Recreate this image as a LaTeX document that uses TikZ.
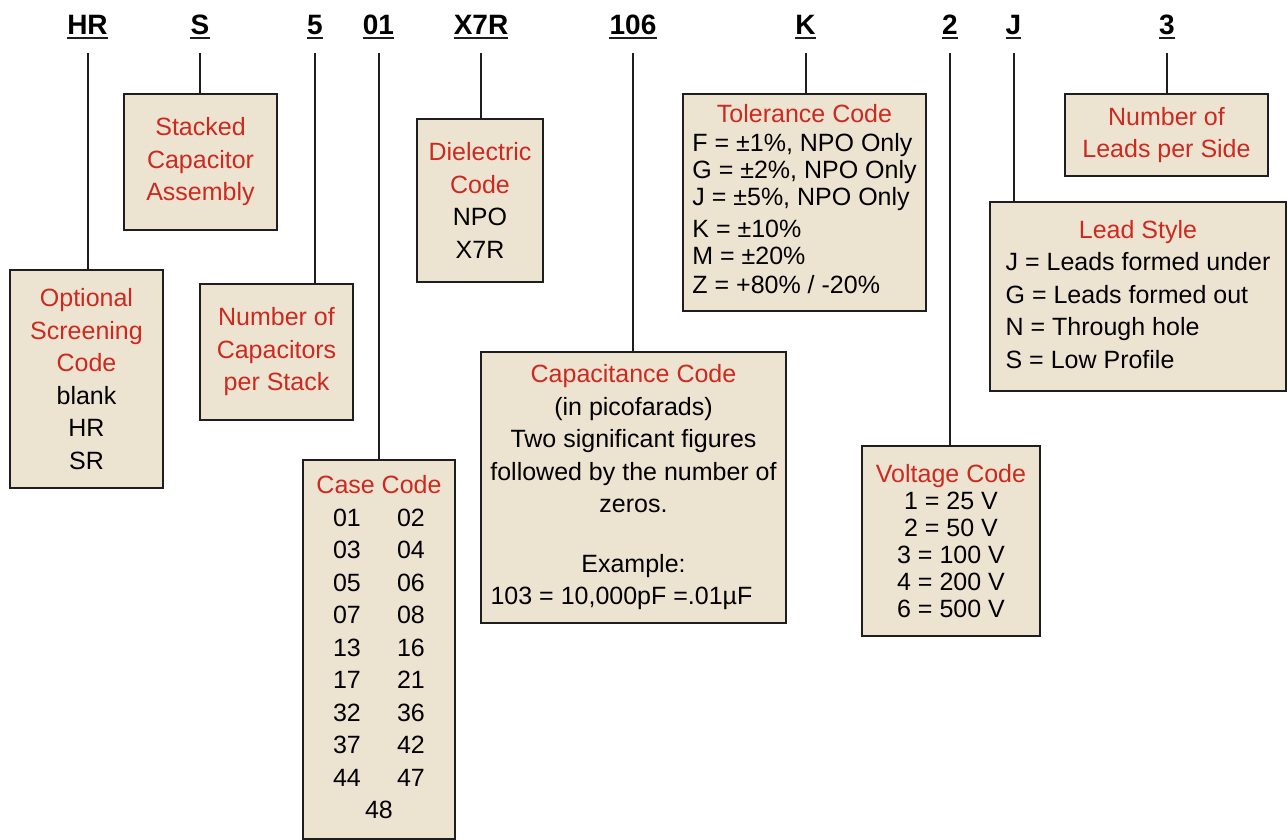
\documentclass[tikz,border=0pt]{standalone}
\usepackage{fontspec}
\setmainfont{Liberation Sans}
\usepackage{array}
\usetikzlibrary{positioning,calc}
\definecolor{specfill}{HTML}{EDE3D1}
\definecolor{specred}{HTML}{CC2A20}
\definecolor{specline}{HTML}{1E1E1E}
\newcommand{\redhd}[1]{\textcolor{specred}{#1}}

\begin{document}
\begin{tikzpicture}[x=1pt, y=-1pt,
    spec box/.style={draw=specline, line width=2pt, fill=specfill, inner sep=0pt, align=center, font=\fontsize{25}{32.5}\selectfont},
    code label/.style={inner sep=0pt, anchor=base, text depth=0pt, font=\fontsize{28}{30}\selectfont\bfseries},
    lead line/.style={draw=specline, line width=2pt}]
    \useasboundingbox (0,0) rectangle (1288,840);

    % part number
    \node[code label] (lhr) at (87.5,35) {HR};
    \node[code label] (ls) at (200,35) {S};
    \node[code label] (lfive) at (315,35) {5};
    \node[code label] (lcase) at (378.5,35) {01};
    \node[code label] (ldiel) at (481,35) {X7R};
    \node[code label] (lcap) at (633,35) {106};
    \node[code label] (ltol) at (805.5,35) {K};
    \node[code label] (lvolt) at (950,35) {2};
    \node[code label] (llead) at (1013.5,35) {J};
    \node[code label] (lnum) at (1167,35) {3};

    % code boxes
    \node[spec box, minimum width=153, minimum height=218] (screen) at (86.5,379)
        {\redhd{Optional}\\\redhd{Screening}\\\redhd{Code}\\blank\\HR\\SR};
    \node[spec box, minimum width=153, minimum height=136] (stack) at (200.5,162)
        {\redhd{Stacked}\\\redhd{Capacitor}\\\redhd{Assembly}};
    \node[spec box, minimum width=153, minimum height=136] (ncap) at (276.5,352)
        {\redhd{Number of}\\\redhd{Capacitors}\\\redhd{per Stack}};
    \node[spec box, minimum width=152, minimum height=379] (case) at (379,649.5)
        {\begin{tabular}{@{}wc{64pt}@{}wc{64pt}@{}}
         \multicolumn{2}{@{}c@{}}{\redhd{Case Code}}\\
         01 & 02\\ 03 & 04\\ 05 & 06\\ 07 & 08\\ 13 & 16\\
         17 & 21\\ 32 & 36\\ 37 & 42\\ 44 & 47\\
         \multicolumn{2}{@{}c@{}}{48}
         \end{tabular}};
    \node[spec box, minimum width=126, minimum height=163] (diel) at (480,200.5)
        {\redhd{Dielectric}\\\redhd{Code}\\NPO\\X7R};
    \node[spec box, minimum width=305, minimum height=271] (cap) at (633.5,487.5)
        {\redhd{Capacitance Code}\\(in picofarads)\\Two significant figures\\followed by the number of\\zeros.\\[27pt]
         Example:\\103 = 10,000pF =.01µF\hspace*{24pt}};
    \node[spec box, minimum width=243, minimum height=217, font=\fontsize{25}{27}\selectfont] (tol) at (804.5,202.5)
        {\begin{tabular}{@{}l@{}}
         \multicolumn{1}{@{}c@{}}{\redhd{Tolerance Code}}\\[2pt]
         F = ±1\%, NPO Only\\
         G = ±2\%, NPO Only\\
         J = ±5\%, NPO Only\\[5pt]
         K = ±10\%\\
         M = ±20\%\\[2pt]
         Z = +80\% / -20\%
         \end{tabular}};
    \node[spec box, minimum width=178, minimum height=190, font=\fontsize{25}{27}\selectfont] (volt) at (951,541)
        {\redhd{Voltage Code}\\1 = 25 V\\2 = 50 V\\3 = 100 V\\4 = 200 V\\6 = 500 V};
    \node[spec box, minimum width=296, minimum height=189] (lead) at (1138,296.5)
        {\begin{tabular}{@{}l@{}}
         \multicolumn{1}{@{}c@{}}{\redhd{Lead Style}}\\
         J = Leads formed under\\
         G = Leads formed out\\
         N = Through hole\\
         S = Low Profile
         \end{tabular}};
    \node[spec box, minimum width=203, minimum height=82] (nlead) at (1166.5,135)
        {\redhd{Number of}\\\redhd{Leads per Side}};

    % underlines and leads
    \foreach \l/\b in {lhr/screen, ls/stack, lfive/ncap, lcase/case, ldiel/diel,
                       lcap/cap, ltol/tol, lvolt/volt, llead/lead, lnum/nlead} {
        \draw[lead line] ([yshift=-3pt]\l.south west) -- ([yshift=-3pt]\l.south east);
        \draw[lead line] ([yshift=-18pt]\l.south) -- (\l.south |- \b.north);
    }
\end{tikzpicture}
\end{document}
